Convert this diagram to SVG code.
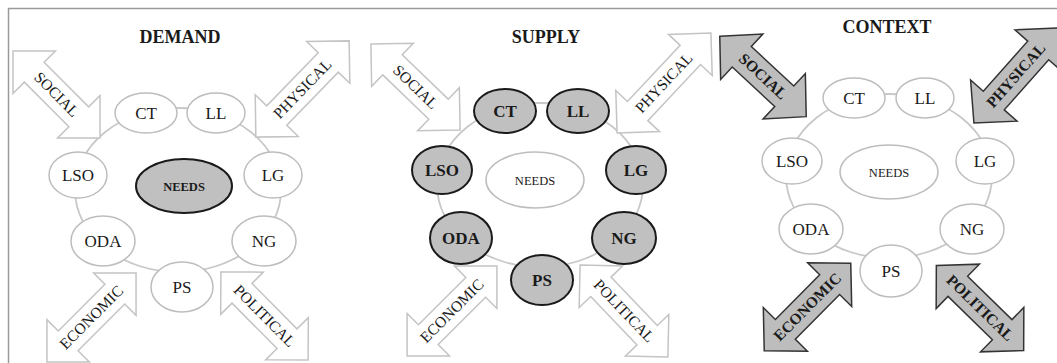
<svg xmlns="http://www.w3.org/2000/svg" width="1057" height="363" viewBox="0 0 1057 363">
<style>
.ring{fill:none;stroke:#c8c8c8;stroke-width:1.8}
.n{fill:#fff;stroke:#bdbdbd;stroke-width:1.5}
.ns{fill:#c0c0c0;stroke:#1a1a1a;stroke-width:2}
.t{font-family:"Liberation Serif","Times New Roman",serif;font-size:17px;fill:#1a1a1a;text-anchor:middle}
.b{font-weight:bold}
.sm{font-size:12.5px}
.ttl{font-size:18px;font-weight:bold}
.aw{fill:#fff;stroke:#c4c4c4;stroke-width:1.5}
.ag{fill:#bdbdbd;stroke:#333;stroke-width:1.5}
.at{font-family:"Liberation Serif","Times New Roman",serif;font-size:15.5px;fill:#1a1a1a;text-anchor:middle}
</style>
<rect x="0" y="0" width="1057" height="363" fill="#fff"/>
<rect x="8.5" y="8.5" width="1060" height="370" fill="none" stroke="#9a9a9a" stroke-width="1.5"/>

<!-- titles -->
<text class="t ttl" x="180" y="43">DEMAND</text>
<text class="t ttl" x="546" y="43">SUPPLY</text>
<text class="t ttl" x="887" y="33">CONTEXT</text>

<!-- connectors (rings) -->
<g id="connectors">
<ellipse class="ring" cx="178" cy="190" rx="103" ry="82"/>
<ellipse class="ring" cx="540" cy="185" rx="103" ry="82"/>
<ellipse class="ring" cx="889" cy="176" rx="103" ry="82"/>
</g>

<!-- arrows DEMAND -->
<g id="demand-social" transform="translate(56.5,94.5) rotate(45)"><path class="aw" d="M-61.5,0 L-31.5,-30 L-31.5,-14 L31.5,-14 L31.5,-30 L61.5,0 L31.5,30 L31.5,14 L-31.5,14 L-31.5,30 Z"/><text class="at" x="0" y="5">SOCIAL</text></g>
<g id="demand-physical" transform="translate(302.5,89) rotate(-45.9)"><path class="aw" d="M-67,0 L-37,-30 L-37,-14 L37,-14 L37,-30 L67,0 L37,30 L37,14 L-37,14 L-37,30 Z"/><text class="at" x="0" y="5">PHYSICAL</text></g>
<g id="demand-economic" transform="translate(91.5,317.5) rotate(-45)"><path class="aw" d="M-63,0 L-33,-30 L-33,-14 L33,-14 L33,-30 L63,0 L33,30 L33,14 L-33,14 L-33,30 Z"/><text class="at" x="0" y="5">ECONOMIC</text></g>
<g id="demand-political" transform="translate(264.5,316) rotate(45.3)"><path class="aw" d="M-62,0 L-32,-30 L-32,-14 L32,-14 L32,-30 L62,0 L32,30 L32,14 L-32,14 L-32,30 Z"/><text class="at" x="0" y="5">POLITICAL</text></g>

<!-- arrows SUPPLY -->
<g id="supply-social" transform="translate(415.5,87) rotate(44)"><path class="aw" d="M-62,0 L-32,-30 L-32,-14 L32,-14 L32,-30 L62,0 L32,30 L32,14 L-32,14 L-32,30 Z"/><text class="at" x="0" y="5">SOCIAL</text></g>
<g id="supply-physical" transform="translate(664,83) rotate(-46.8)"><path class="aw" d="M-68.5,0 L-38.5,-30 L-38.5,-14 L38.5,-14 L38.5,-30 L68.5,0 L38.5,30 L38.5,14 L-38.5,14 L-38.5,30 Z"/><text class="at" x="0" y="5">PHYSICAL</text></g>
<g id="supply-economic" transform="translate(452,311) rotate(-45)"><path class="aw" d="M-63.5,0 L-33.5,-30 L-33.5,-14 L33.5,-14 L33.5,-30 L63.5,0 L33.5,30 L33.5,14 L-33.5,14 L-33.5,30 Z"/><text class="at" x="0" y="5">ECONOMIC</text></g>
<g id="supply-political" transform="translate(624,311) rotate(46.3)"><path class="aw" d="M-63.5,0 L-33.5,-30 L-33.5,-14 L33.5,-14 L33.5,-30 L63.5,0 L33.5,30 L33.5,14 L-33.5,14 L-33.5,30 Z"/><text class="at" x="0" y="5">POLITICAL</text></g>

<!-- arrows CONTEXT -->
<g id="context-social" transform="translate(763,76.5) rotate(42.9)"><path class="ag" d="M-59,0 L-29,-31 L-29,-14 L29,-14 L29,-31 L59,0 L29,31 L29,14 L-29,14 L-29,31 Z"/><text class="at b" x="0" y="5">SOCIAL</text></g>
<g id="context-physical" transform="translate(1016,75.5) rotate(-48.5)"><path class="ag" d="M-63.5,0 L-33.5,-31 L-33.5,-14 L33.5,-14 L33.5,-31 L63.5,0 L33.5,31 L33.5,14 L-33.5,14 L-33.5,31 Z"/><text class="at b" x="0" y="5">PHYSICAL</text></g>
<g id="context-economic" transform="translate(807.5,307) rotate(-45.3)"><path class="ag" d="M-61.5,0 L-31.5,-31 L-31.5,-14 L31.5,-14 L31.5,-31 L61.5,0 L31.5,31 L31.5,14 L-31.5,14 L-31.5,31 Z"/><text class="at b" x="0" y="5">ECONOMIC</text></g>
<g id="context-political" transform="translate(980,308) rotate(44.3)"><path class="ag" d="M-61,0 L-31,-31 L-31,-14 L31,-14 L31,-31 L61,0 L31,31 L31,14 L-31,14 L-31,31 Z"/><text class="at b" x="0" y="5">POLITICAL</text></g>

<!-- DEMAND nodes -->
<g id="d-ct"><ellipse class="n" cx="146" cy="113" rx="31" ry="20"/><text class="t" x="146" y="119">CT</text></g>
<g id="d-ll"><ellipse class="n" cx="216" cy="113" rx="29" ry="20"/><text class="t" x="216" y="119">LL</text></g>
<g id="d-lso"><ellipse class="n" cx="78" cy="175" rx="29" ry="23"/><text class="t" x="78" y="181">LSO</text></g>
<g id="d-lg"><ellipse class="n" cx="273" cy="175" rx="29" ry="23"/><text class="t" x="273" y="181">LG</text></g>
<g id="d-oda"><ellipse class="n" cx="103" cy="241" rx="32" ry="25"/><text class="t" x="103" y="247">ODA</text></g>
<g id="d-ng"><ellipse class="n" cx="264" cy="241" rx="32" ry="25"/><text class="t" x="264" y="247">NG</text></g>
<g id="d-ps"><ellipse class="n" cx="182" cy="287" rx="31" ry="25"/><text class="t" x="182" y="293">PS</text></g>
<g id="d-needs"><ellipse class="ns" cx="184" cy="186" rx="48" ry="27"/><text class="t b sm" x="184" y="190.5">NEEDS</text></g>

<!-- SUPPLY nodes -->
<g id="s-ct"><ellipse class="ns" cx="505" cy="111" rx="31" ry="22"/><text class="t b" x="505" y="117">CT</text></g>
<g id="s-ll"><ellipse class="ns" cx="578" cy="111" rx="31" ry="22"/><text class="t b" x="578" y="117">LL</text></g>
<g id="s-lso"><ellipse class="ns" cx="442" cy="170" rx="30" ry="24"/><text class="t b" x="442" y="176">LSO</text></g>
<g id="s-lg"><ellipse class="ns" cx="636" cy="170" rx="30" ry="24"/><text class="t b" x="636" y="176">LG</text></g>
<g id="s-oda"><ellipse class="ns" cx="461" cy="238" rx="31" ry="26"/><text class="t b" x="461" y="244">ODA</text></g>
<g id="s-ng"><ellipse class="ns" cx="624" cy="238" rx="32" ry="26"/><text class="t b" x="624" y="244">NG</text></g>
<g id="s-ps"><ellipse class="ns" cx="542" cy="280" rx="31" ry="25"/><text class="t b" x="542" y="286">PS</text></g>
<g id="s-needs"><ellipse class="n" cx="535" cy="180" rx="49" ry="28"/><text class="t sm" x="535" y="184.5">NEEDS</text></g>

<!-- CONTEXT nodes -->
<g id="c-ct"><ellipse class="n" cx="854" cy="98" rx="31" ry="20"/><text class="t" x="854" y="104">CT</text></g>
<g id="c-ll"><ellipse class="n" cx="925" cy="98" rx="29" ry="20"/><text class="t" x="925" y="104">LL</text></g>
<g id="c-lso"><ellipse class="n" cx="792" cy="161" rx="30" ry="23"/><text class="t" x="792" y="167">LSO</text></g>
<g id="c-lg"><ellipse class="n" cx="985" cy="161" rx="29" ry="23"/><text class="t" x="985" y="167">LG</text></g>
<g id="c-oda"><ellipse class="n" cx="811" cy="229" rx="32" ry="25"/><text class="t" x="811" y="235">ODA</text></g>
<g id="c-ng"><ellipse class="n" cx="972" cy="229" rx="32" ry="25"/><text class="t" x="972" y="235">NG</text></g>
<g id="c-ps"><ellipse class="n" cx="891" cy="271" rx="31" ry="26"/><text class="t" x="891" y="277">PS</text></g>
<g id="c-needs"><ellipse class="n" cx="889" cy="172" rx="49" ry="27"/><text class="t sm" x="889" y="176.5">NEEDS</text></g>
</svg>
